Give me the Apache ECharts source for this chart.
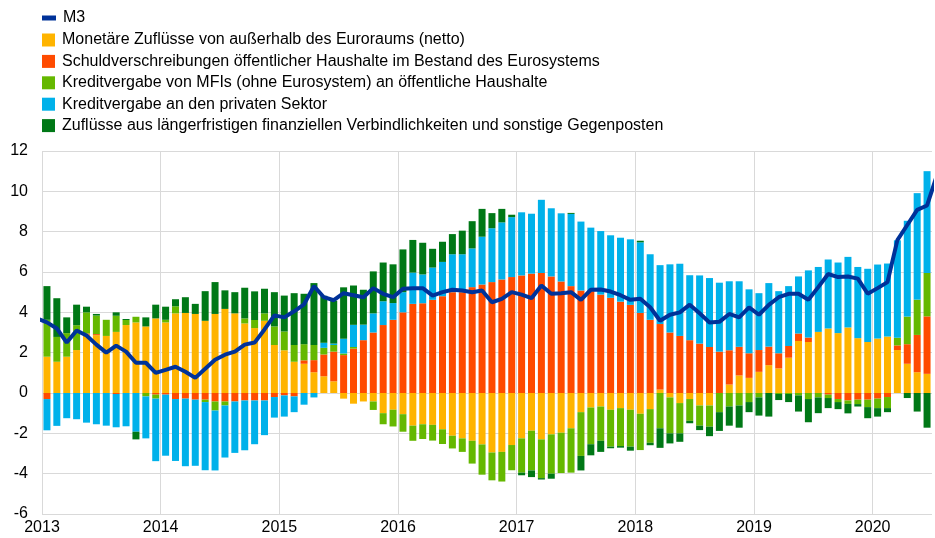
<!DOCTYPE html>
<html>
<head>
<meta charset="utf-8">
<script src="https://cdn.jsdelivr.net/npm/echarts@6/dist/echarts.min.js"></script>
<style>
  html, body { margin: 0; padding: 0; background: #fff; }
  #chart { width: 935px; height: 538px; }
</style>
</head>
<body>
<div id="chart"></div>
<script>
// Jan 2013 .. Jun 2020, Beiträge zum M3-Wachstum (Prozentpunkte)
var monetaer = [1.8, 1.55, 1.8, 2.13, 2.9, 2.87, 2.83, 3.03, 3.37, 3.5, 3.3, 3.7,
    3.5, 3.95, 3.97, 3.92, 3.58, 3.92, 4.17, 3.95, 3.45, 3.22, 3.58, 2.38,
    2.12, 1.55, 1.45, 1.03, 0.83, 0.58, -0.28, -0.53, -0.42, -0.42, -1.0, -0.83,
    -1.05, -1.62, -1.55, -1.58, -1.8, -2.12, -2.25, -2.37, -2.55, -2.95, -2.92, -2.58,
    -2.25, -1.87, -2.3, -2.05, -1.97, -1.75, -0.95, -0.72, -0.67, -0.83, -0.75, -0.83,
    -1.03, -0.8, 0.17, -0.22, -0.5, -0.3, -0.62, -0.62, 0, 0.42, 0.87, 0.75,
    1.05, 1.38, 1.22, 1.75, 2.58, 2.53, 3.03, 3.2, 2.97, 3.25, 2.72, 2.53,
    2.7, 2.8, 2.13, 1.45, 1.03, 0.95];
var eurosystem = [-0.3, 0, 0, 0, 0.05, 0.05, 0, -0.05, 0, 0, 0, -0.08,
    -0.08, -0.3, -0.28, -0.33, -0.33, -0.42, -0.42, -0.42, -0.37, -0.37, -0.37, -0.2,
    -0.12, -0.17, 0.17, 0.6, 1.08, 1.47, 1.88, 2.2, 2.62, 3.0, 3.37, 3.63,
    4.0, 4.42, 4.45, 4.62, 4.8, 5.0, 5.0, 5.25, 5.38, 5.5, 5.63, 5.75,
    5.83, 5.92, 5.95, 5.78, 5.53, 5.3, 5.08, 5.05, 4.88, 4.72, 4.53, 4.37,
    3.97, 3.63, 3.25, 3.0, 2.83, 2.62, 2.45, 2.28, 2.05, 1.7, 1.42, 1.22,
    1.08, 0.92, 0.75, 0.58, 0.37, 0.22, 0, -0.08, -0.3, -0.37, -0.33, -0.33,
    -0.28, -0.2, 0.23, 0.97, 1.85, 2.85];
var mfiStaat = [1.83, 1.23, 1.17, 1.23, 1.05, 0.92, 0.8, 0.8, 0.25, 0.28, -0.17, -0.2,
    0.13, 0.35, 0, 0, -0.12, -0.45, -0.2, 0, 0.25, 0.4, 0.37, 0.92,
    0.93, 0.83, 0.8, 0.75, 0.33, 0.33, 0.08, 0.08, 0, -0.42, -0.55, -0.83,
    -0.87, -0.75, -0.73, -0.78, -0.73, -0.63, -0.67, -1.13, -1.5, -1.38, -1.47, -1.25,
    -1.7, -1.97, -1.92, -1.95, -2.0, -2.2, -2.17, -1.82, -1.7, -1.83, -1.88, -1.83,
    -1.8, -1.67, -1.75, -1.78, -1.5, -1.08, -1.0, -1.05, -0.95, -0.67, -0.62, -0.45,
    -0.22, 0, -0.05, -0.05, -0.12, -0.3, -0.22, -0.17, -0.15, -0.17, -0.22, -0.37,
    -0.47, -0.55, 0.38, 1.37, 1.75, 2.15];
var privat = [-1.55, -1.63, -1.25, -1.3, -1.47, -1.55, -1.62, -1.65, -1.65, -1.92, -2.08, -3.1,
    -3.03, -3.07, -3.35, -3.28, -3.38, -2.97, -2.58, -2.55, -2.47, -2.17, -1.72, -1.02,
    -1.05, -0.78, -0.58, -0.22, 0.25, 0.07, 0.73, 1.1, 0.77, 0.95, 1.18, 0.83,
    1.0, 1.55, 1.43, 1.6, 1.7, 1.88, 1.88, 1.92, 2.37, 2.67, 2.83, 2.97,
    3.13, 2.97, 3.63, 3.38, 3.38, 3.58, 3.42, 3.15, 3.15, 3.1, 3.17, 3.25,
    3.5, 3.25, 2.92, 3.38, 3.58, 3.22, 3.38, 3.42, 3.42, 3.42, 3.25, 3.17,
    2.82, 3.15, 3.08, 2.97, 2.83, 3.33, 3.22, 3.42, 3.5, 3.5, 3.53, 3.63,
    3.67, 3.62, 4.83, 4.75, 5.28, 5.05];
var sonstige = [1.67, 1.92, 0.78, 1.02, 0.28, 0.08, 0, 0.17, 0.05, -0.38, 0.45, 0.68,
    0.65, 0.35, 0.78, 0.5, 1.47, 1.58, 0.92, 1.05, 1.52, 1.42, 1.22, 1.7,
    1.78, 2.57, 2.5, 3.07, 2.33, 2.13, 2.55, 1.95, 1.73, 2.08, 1.92, 1.92,
    2.12, 1.62, 1.57, 0.93, 1.0, 1.0, 1.17, 1.35, 1.38, 0.75, 0.67, 0.12,
    -0.13, -0.33, -0.07, -0.25, 0, 0.05, -0.72, -0.55, -0.55, -0.08, -0.08, -0.2,
    0.08, -0.12, -0.97, -0.5, -0.42, -0.12, -0.22, -0.47, -0.93, -0.95, -1.1, -0.5,
    -0.9, -1.17, -0.3, -0.4, -0.8, -1.15, -0.78, -0.5, -0.35, -0.47, -0.12, -0.55,
    -0.42, -0.2, 0, -0.25, -0.92, -1.72];
// M3 von Dez 2012 bis Jul 2020 (Randpunkte werden am Plotrand abgeschnitten)
var m3 = [3.7,
    3.5, 3.2, 2.5, 3.1, 2.85, 2.4, 2.0, 2.35, 2.05, 1.5, 1.5, 1.0,
    1.15, 1.3, 1.05, 0.75, 1.2, 1.65, 1.9, 2.05, 2.4, 2.5, 3.15, 3.85,
    3.75, 4.05, 4.4, 5.3, 4.75, 4.6, 4.95, 4.85, 4.75, 5.2, 4.92, 4.75,
    5.17, 5.2, 5.2, 4.83, 5.0, 5.12, 5.08, 5.0, 5.08, 4.5, 4.67, 5.0,
    4.88, 4.7, 5.33, 4.92, 4.95, 5.0, 4.62, 5.12, 5.13, 5.03, 4.85, 4.62,
    4.67, 4.25, 3.58, 3.88, 4.0, 4.38, 3.95, 3.5, 3.53, 3.92, 3.75, 4.25,
    3.88, 4.37, 4.75, 4.92, 4.92, 4.62, 5.25, 5.9, 5.75, 5.78, 5.67, 4.92,
    5.2, 5.5, 7.58, 8.33, 9.08, 9.3,
    10.8];
var yearLabels = ['2013', '2014', '2015', '2016', '2017', '2018', '2019', '2020'];

var names = [
    'Monetäre Zuflüsse von außerhalb des Euroraums (netto)',
    'Schuldverschreibungen öffentlicher Haushalte im Bestand des Eurosystems',
    'Kreditvergabe von MFIs (ohne Eurosystem) an öffentliche Haushalte',
    'Kreditvergabe an den privaten Sektor',
    'Zuflüsse aus längerfristigen finanziellen Verbindlichkeiten und sonstige Gegenposten'
];
var colors = ['#FFB400', '#FF4B00', '#65B800', '#00B1EA', '#007816'];
var parts = [monetaer, eurosystem, mfiStaat, privat, sonstige];

// Kategorien: Index 0 = Dez 2012, 1..90 = Jan 2013..Jun 2020, 91 = Jul 2020
var cats = [];
for (var i = 0; i < m3.length; i++) cats.push(i);

var font = "'Liberation Sans', Arial, sans-serif";
var fs = 16;
var series = [];
for (var k = 0; k < parts.length; k++) {
    var d = [null].concat(parts[k]).concat([null]);
    series.push({
        name: names[k],
        type: 'bar',
        stack: 'beitraege',
        xAxisIndex: 0,
        barWidth: 7,
        itemStyle: { color: colors[k] },
        data: d
    });
}
series.push({
    name: 'M3',
    type: 'line',
    xAxisIndex: 0,
    symbol: 'none',
    lineStyle: { color: '#003299', width: 4 },
    itemStyle: { color: '#003299' },
    z: 5,
    data: m3
});

var chart = echarts.init(document.getElementById('chart'));
chart.setOption({
    animation: false,
    textStyle: { fontFamily: font },
    grid: { left: 42, right: -1, top: 151, bottom: 24 },
    legend: [{
        left: 37,
        top: 5,
        selectedMode: false,
        itemWidth: 14,
        itemHeight: 5,
        icon: 'rect',
        textStyle: { fontSize: fs, color: '#000', fontFamily: font, lineHeight: 16, padding: [0, 0, 0, 2] },
        data: [{ name: 'M3', itemStyle: { color: '#003299' } }]
    }, {
        left: 37,
        top: 27,
        orient: 'vertical',
        selectedMode: false,
        itemWidth: 13,
        itemHeight: 13,
        itemGap: 5.4,
        icon: 'rect',
        textStyle: { fontSize: fs, color: '#000', fontFamily: font, lineHeight: 16, padding: [0, 0, 0, 2] },
        data: names
    }],
    xAxis: [{
        type: 'category',
        data: cats,
        min: 1,
        max: 90,
        show: false
    }, {
        type: 'value',
        position: 'bottom',
        min: 0,
        max: 90,
        interval: 12,
        axisLine: { show: false },
        axisTick: { show: false },
        splitLine: { show: true, showMaxLine: false, lineStyle: { color: '#d9d9d9', width: 1 } },
        axisLabel: {
            margin: 6,
            fontSize: fs,
            color: '#000',
            fontFamily: font,
            formatter: function (v) {
                if (v % 12 !== 0) return '';
                return yearLabels[v / 12] || '';
            }
        }
    }],
    yAxis: {
        type: 'value',
        min: -6,
        max: 12,
        interval: 2,
        axisLine: { show: false },
        axisTick: { show: false },
        splitLine: { lineStyle: { color: '#d9d9d9', width: 1 } },
        axisLabel: { margin: 14, fontSize: fs, color: '#000', fontFamily: font }
    },
    series: series
});
</script>
</body>
</html>
